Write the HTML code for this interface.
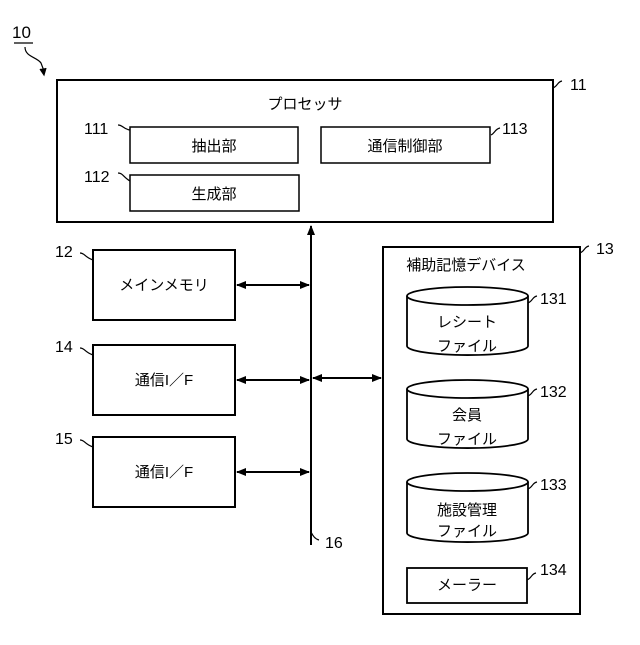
<!DOCTYPE html>
<html><head><meta charset="utf-8"><style>body{margin:0;background:#fff}</style></head><body>
<svg width="640" height="640" viewBox="0 0 640 640" xmlns="http://www.w3.org/2000/svg" font-family="Liberation Sans, Noto Sans CJK JP, sans-serif" font-size="15" fill="none" stroke="#000">
<defs><marker id="a" markerWidth="10" markerHeight="10" refX="9" refY="5" orient="auto-start-reverse" markerUnits="userSpaceOnUse"><path d="M0,1 L10,5 L0,9 z" fill="#000" stroke="none"/></marker></defs>
<g stroke-width="2">
<rect x="57" y="80" width="496" height="142"/>
<rect x="130" y="127" width="168" height="36" stroke-width="1.5"/>
<rect x="130" y="175" width="169" height="36" stroke-width="1.5"/>
<rect x="321" y="127" width="169" height="36" stroke-width="1.5"/>
<rect x="93" y="250" width="142" height="70"/>
<rect x="93" y="345" width="142" height="70"/>
<rect x="93" y="437" width="142" height="70"/>
<rect x="383" y="247" width="197" height="367"/>
<line x1="311" y1="545" x2="311" y2="226" marker-end="url(#a)"/>
<line x1="237" y1="285" x2="309" y2="285" marker-start="url(#a)" marker-end="url(#a)"/>
<line x1="237" y1="380" x2="309" y2="380" marker-start="url(#a)" marker-end="url(#a)"/>
<line x1="237" y1="472" x2="309" y2="472" marker-start="url(#a)" marker-end="url(#a)"/>
<line x1="313" y1="378" x2="381" y2="378" marker-start="url(#a)" marker-end="url(#a)"/>
<g stroke-width="1.8">
<path d="M407,296 v50 a60,9 0 0 0 121,0 v-50"/><ellipse cx="467.5" cy="296" rx="60.5" ry="9"/>
<path d="M407,389 v50 a60,9 0 0 0 121,0 v-50"/><ellipse cx="467.5" cy="389" rx="60.5" ry="9"/>
<path d="M407,482 v51 a60,9 0 0 0 121,0 v-51"/><ellipse cx="467.5" cy="482" rx="60.5" ry="9"/>
<rect x="407" y="568" width="120" height="35"/>
</g>
</g>
<g stroke-width="1.2">
<path d="M14,43 H33"/><path d="M25,47 c0,10 12,10 16,16 l3,8"/><path d="M40,69 l4,6 l2,-7" fill="#000"/>
<path d="M118,125 c5,0 5,4 12,5"/><path d="M118,173 c5,0 5,4 12,8"/>
<path d="M491,135 c4,-2 4,-6 9,-7"/><path d="M553,88 c5,-2 4,-6 9,-7"/>
<path d="M80,253 c5,0 4,4 13,7"/><path d="M80,348 c5,0 4,4 13,7"/><path d="M80,440 c5,0 4,4 13,7"/>
<path d="M580,253 c5,-2 4,-6 9,-7"/><path d="M528,303 c5,-2 4,-6 9,-7"/><path d="M528,396 c5,-2 4,-6 9,-7"/><path d="M528,489 c5,-2 4,-6 9,-7"/><path d="M527,580 c5,-2 4,-6 9,-7"/>
<path d="M311,532 c2,4 4,7 8,8"/>
</g>
<g fill="#000" stroke="none">
<text x="12" y="38" font-size="17">10</text>
<text x="570" y="90" font-size="16">11</text>
<text x="596" y="254" font-size="16">13</text>
<text x="55" y="257" font-size="16">12</text>
<text x="55" y="352" font-size="16">14</text>
<text x="55" y="444" font-size="16">15</text>
<text x="325" y="548" font-size="16">16</text>
<text x="84" y="134" font-size="16">111</text>
<text x="84" y="182" font-size="16">112</text>
<text x="502" y="134" font-size="16">113</text>
<text x="540" y="304" font-size="16">131</text>
<text x="540" y="397" font-size="16">132</text>
<text x="540" y="490" font-size="16">133</text>
<text x="540" y="575" font-size="16">134</text>
<g text-anchor="middle">
<text x="305" y="109">プロセッサ</text>
<text x="214" y="151">抽出部</text>
<text x="214" y="199">生成部</text>
<text x="405" y="151">通信制御部</text>
<text x="164" y="290">メインメモリ</text>
<text x="164" y="385">通信I／F</text>
<text x="164" y="477">通信I／F</text>
<text x="466" y="270">補助記憶デバイス</text>
<text x="467" y="327">レシート</text>
<text x="467" y="351">ファイル</text>
<text x="467" y="420">会員</text>
<text x="467" y="444">ファイル</text>
<text x="467" y="515">施設管理</text>
<text x="467" y="536">ファイル</text>
<text x="467" y="590">メーラー</text>
</g></g>
</svg>
</body></html>
